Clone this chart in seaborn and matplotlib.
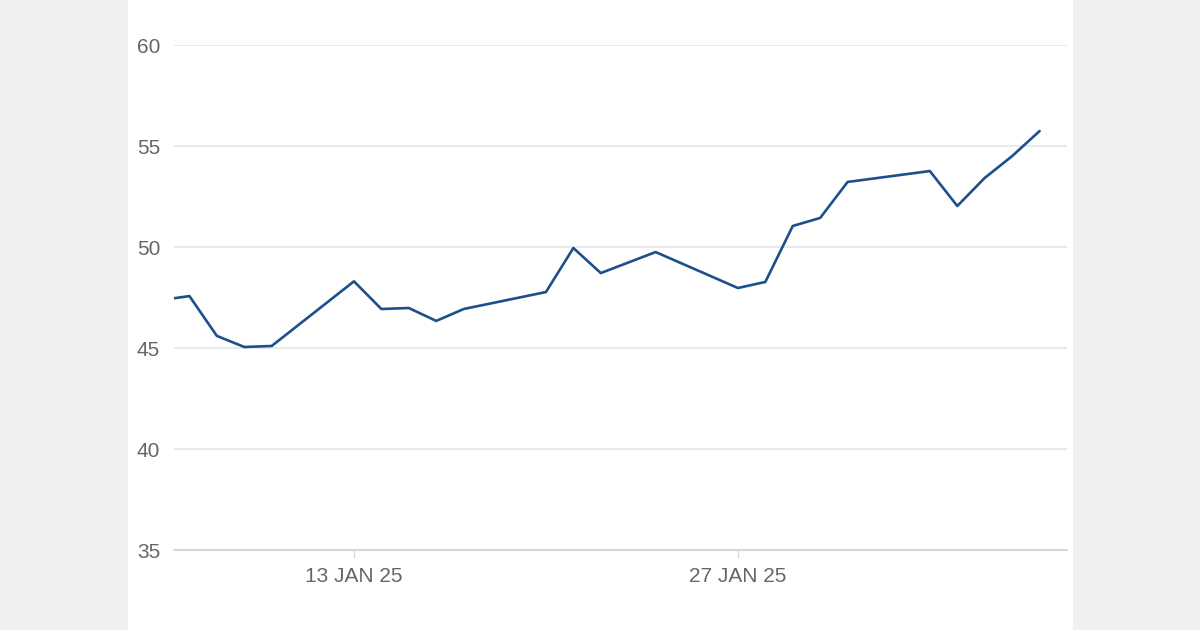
import pandas as pd
import numpy as np
import matplotlib
matplotlib.use('Agg')
import matplotlib.pyplot as plt
import matplotlib.dates as mdates
from matplotlib.patches import Rectangle
import seaborn as sns

# ── Data ─────────────────────────────────────────────
dates = ['2025-01-06', '2025-01-07', '2025-01-08', '2025-01-09', '2025-01-10',
         '2025-01-13', '2025-01-14', '2025-01-15', '2025-01-16', '2025-01-17',
         '2025-01-20', '2025-01-21', '2025-01-22', '2025-01-24',
         '2025-01-27', '2025-01-28', '2025-01-29', '2025-01-30', '2025-01-31',
         '2025-02-03', '2025-02-04', '2025-02-05', '2025-02-06', '2025-02-07']
values = [47.38, 47.57, 45.6, 45.05, 45.1,
          48.3, 46.93, 46.98, 46.34, 46.93,
          47.77, 49.95, 48.71, 49.75,
          47.97, 48.27, 51.04, 51.44, 53.22,
          53.76, 52.03, 53.42, 54.5, 55.74]
y_ticks = [35, 40, 45, 50, 55, 60]
x_ticks = ['2025-01-13', '2025-01-27']

# ── Palette ──────────────────────────────────────────
OUTER_BG = '#f0f0f0'
PANEL_BG = '#ffffff'
LINE     = '#1d4f8c'
GRID     = '#e3e5ea'
BASE     = '#d3d7de'
TEXT     = '#666666'

df = pd.DataFrame({'date': pd.to_datetime(dates), 'value': values})

sns.set_style('white')
plt.rcParams['font.family'] = ['Liberation Sans', 'DejaVu Sans']

fig = plt.figure(figsize=(12, 6.3), dpi=100, facecolor=OUTER_BG)
panel = Rectangle((128/1200, 0), (1073-128)/1200, 1, transform=fig.transFigure,
                  facecolor=PANEL_BG, edgecolor='none', zorder=-10)
fig.add_artist(panel)
ax = fig.add_axes([174/1200, 1-550/630, (1067-174)/1200, (550-45)/630])
ax.set_facecolor('none')
ax.set_zorder(5)

sns.lineplot(data=df, x='date', y='value', ax=ax, color=LINE, linewidth=1.9)

ax.set_xlim(pd.Timestamp('2025-01-06 10:30'), pd.Timestamp('2025-02-08'))
ax.set_ylim(35, 60)
ax.set_yticks(y_ticks)
ax.set_xticks(pd.to_datetime(x_ticks))
ax.set_xticklabels([pd.Timestamp(t).strftime('%d %b %y').upper() for t in x_ticks])

for y in y_ticks[1:]:
    ax.axhline(y, color=GRID, linewidth=1.2, zorder=0)
ax.axhline(35, color=BASE, linewidth=1.5, zorder=0, clip_on=False)

for s in ax.spines.values():
    s.set_visible(False)
ax.tick_params(axis='y', length=0, pad=10, labelsize=15, labelcolor=TEXT)
ax.tick_params(axis='x', length=6, width=1, color=BASE, pad=6, labelsize=15, labelcolor=TEXT,
               bottom=True)
ax.set_xlabel('')
ax.set_ylabel('')

fig.savefig('out.png', dpi=100, facecolor=OUTER_BG)
